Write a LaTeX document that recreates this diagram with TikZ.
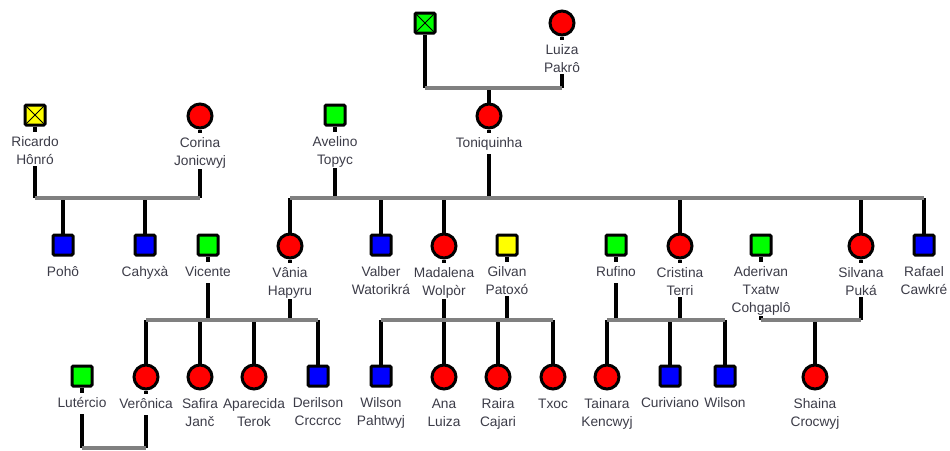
\documentclass[tikz,border=0pt]{standalone}
\usepackage{fontspec}
\setmainfont{Liberation Sans}
\usetikzlibrary{backgrounds}
\definecolor{mgreen}{RGB}{0,255,0}
\definecolor{mred}{RGB}{255,0,0}
\definecolor{mblue}{RGB}{0,0,255}
\definecolor{myellow}{RGB}{255,255,0}
\definecolor{barc}{RGB}{128,128,128}
\definecolor{txt}{RGB}{60,60,72}
\tikzset{
  sym/.style={draw=black, line width=2.25pt, fill=#1},
  sq/.style={sym=#1, rectangle, minimum size=15pt, inner sep=0pt, rounded corners=1pt},
  ci/.style={sym=#1, circle, minimum size=18pt, inner sep=0pt},
  xmark/.style={path picture={\draw[line width=0.75pt]
      (path picture bounding box.north west) -- (path picture bounding box.south east)
      (path picture bounding box.north east) -- (path picture bounding box.south west);}},
  lab/.style={anchor=north, align=center, fill=white, inner sep=1pt, text=txt,
      font=\fontsize{10.3}{13.5}\selectfont},
  vl/.style={line width=2.4pt, black},
  bar/.style={line width=3pt, barc},
}
% person: name, x, y, symbol style, label
\newcommand\pers[5]{%
  \node[#4] (#1) at (#2,#3) {};
  \node[lab] (#1l) at (#2,#3+17) {\strut #5};}
\begin{document}
\begin{tikzpicture}[x=0.75pt,y=-0.75pt]
\useasboundingbox (0,0) rectangle (950,450);
% generation 0
\node[sq=mgreen, xmark] (gA) at (425,23) {};
\pers{gB}{562}{23}{ci=mred}{Luiza\\Pakrô}
% generation 1
\pers{ric}{35}{115}{sq=myellow, xmark}{Ricardo\\Hônró}
\pers{cor}{200}{116}{ci=mred}{Corina\\Jonicwyj}
\pers{ave}{335}{115}{sq=mgreen}{Avelino\\Topyc}
\pers{ton}{489}{116}{ci=mred}{Toniquinha}
% generation 2
\pers{poh}{63}{245}{sq=mblue}{Pohô}
\pers{cah}{145}{245}{sq=mblue}{Cahyxà}
\pers{vic}{208}{245}{sq=mgreen}{Vicente}
\pers{van}{290}{246}{ci=mred}{Vânia\\Hapyru}
\pers{val}{381}{245}{sq=mblue}{Valber\\Watorikrá}
\pers{mad}{444}{246}{ci=mred}{Madalena\\Wolpòr}
\pers{gil}{507}{245}{sq=myellow}{Gilvan\\Patoxó}
\pers{ruf}{616}{245}{sq=mgreen}{Rufino}
\pers{cri}{680}{246}{ci=mred}{Cristina\\Terri}
\pers{ade}{761}{245}{sq=mgreen}{Aderivan\\Txatw\\Cohgaplô}
\pers{sil}{861}{246}{ci=mred}{Silvana\\Puká}
\pers{raf}{924}{245}{sq=mblue}{Rafael\\Cawkré}
% generation 3
\pers{lut}{82}{376}{sq=mgreen}{Lutércio}
\pers{ver}{146}{377}{ci=mred}{Verônica}
\pers{saf}{200}{377}{ci=mred}{Safira\\Janč}
\pers{apa}{254}{377}{ci=mred}{Aparecida\\Terok}
\pers{der}{318}{376}{sq=mblue}{Derilson\\Crccrcc}
\pers{wia}{381}{376}{sq=mblue}{Wilson\\Pahtwyj}
\pers{ana}{444}{377}{ci=mred}{Ana\\Luiza}
\pers{rai}{498}{377}{ci=mred}{Raira\\Cajari}
\pers{txo}{553}{377}{ci=mred}{Txoc}
\pers{tai}{607}{377}{ci=mred}{Tainara\\Kencwyj}
\pers{cur}{670}{376}{sq=mblue}{Curiviano}
\pers{wib}{725}{376}{sq=mblue}{Wilson}
\pers{sha}{815}{377}{ci=mred}{Shaina\\Crocwyj}
% family bar levels
\coordinate (b0) at (0,88);
\coordinate (b1) at (0,198);
\coordinate (b2) at (0,320);
\coordinate (b3) at (0,448);
\begin{scope}[on background layer]
  % parents down to their bar
  \foreach \p/\b in {gA/b0, gB/b0, ric/b1, cor/b1, ave/b1, ton/b1,
                     vic/b2, van/b2, mad/b2, gil/b2, ruf/b2, cri/b2, ade/b2, sil/b2,
                     lut/b3, ver/b3}
    \draw[vl] (\p.south) -- (\p |- \b);
  % children up from their bar
  \foreach \c/\b in {ton/b0, poh/b1, cah/b1, van/b1, val/b1, mad/b1, cri/b1, sil/b1, raf/b1,
                     ver/b2, saf/b2, apa/b2, der/b2, wia/b2, ana/b2, rai/b2, txo/b2,
                     tai/b2, cur/b2, wib/b2, sha/b2}
    \draw[vl] (\c |- \b) -- (\c.north);
  % family bars
  \foreach \l/\r/\b in {gA/gB/b0, ric/cor/b1, van/raf/b1, ver/der/b2, wia/txo/b2,
                        tai/wib/b2, ade/sil/b2, lut/ver/b3}
    \draw[bar] (\l |- \b) -- (\r |- \b);
\end{scope}
\end{tikzpicture}
\end{document}
